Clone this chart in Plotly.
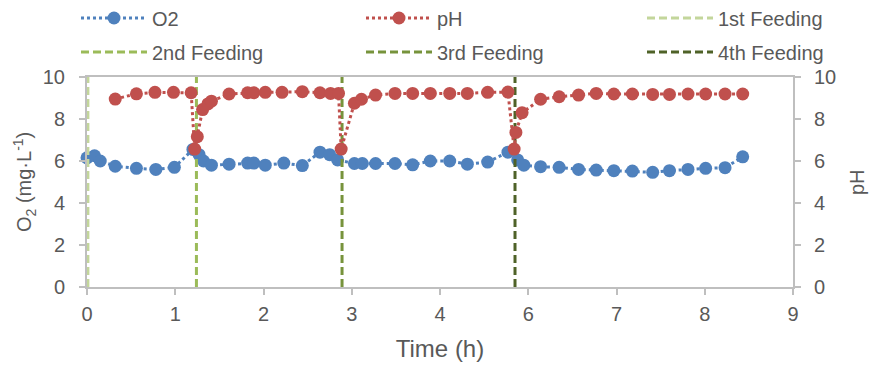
import plotly.graph_objects as go

# ---- data (x in axis-position units; tick labels as printed on the chart) ----
o2_time = [0.0, 0.085, 0.15, 0.32, 0.56, 0.78, 0.99, 1.20, 1.27, 1.32, 1.41, 1.61, 1.82, 1.89,
           2.02, 2.23, 2.44, 2.64, 2.75, 2.84, 3.03, 3.12, 3.27, 3.49, 3.69, 3.89, 4.11, 4.31,
           4.54, 4.77, 4.88, 4.95, 5.14, 5.35, 5.57, 5.77, 5.97, 6.18, 6.41, 6.60, 6.81, 7.01,
           7.23, 7.43]
o2_vals = [6.15, 6.25, 6.0, 5.75, 5.65, 5.6, 5.7, 6.55, 6.3, 6.0, 5.8, 5.85, 5.9, 5.9,
           5.8, 5.9, 5.78, 6.42, 6.3, 6.05, 5.88, 5.88, 5.88, 5.88, 5.82, 6.0, 6.0, 5.85,
           5.95, 6.42, 6.05, 5.8, 5.73, 5.7, 5.6, 5.57, 5.54, 5.52, 5.46, 5.54, 5.6, 5.65,
           5.68, 6.2]

ph_time = [0.32, 0.56, 0.77, 0.98, 1.18, 1.22, 1.25, 1.31, 1.37, 1.41, 1.61, 1.82, 1.89,
           2.02, 2.21, 2.44, 2.64, 2.76, 2.85, 2.88, 3.03, 3.11, 3.27, 3.49, 3.69, 3.89,
           4.11, 4.31, 4.54, 4.77, 4.84, 4.86, 4.93, 5.14, 5.35, 5.57, 5.77, 5.97, 6.18,
           6.41, 6.60, 6.81, 7.01, 7.23, 7.43]
ph_vals = [8.95, 9.2, 9.27, 9.27, 9.25, 6.57, 7.16, 8.45, 8.72, 8.85, 9.19, 9.25, 9.25,
           9.27, 9.27, 9.3, 9.25, 9.22, 9.22, 6.57, 8.75, 8.94, 9.14, 9.22, 9.22, 9.22,
           9.22, 9.22, 9.27, 9.28, 6.57, 7.36, 8.3, 8.94, 9.06, 9.14, 9.22, 9.19, 9.19,
           9.17, 9.17, 9.19, 9.19, 9.19, 9.19]

feed_names = ["1st Feeding", "2nd Feeding", "3rd Feeding", "4th Feeding"]
feed_times = [0.01, 1.24, 2.89, 4.85]
feed_colors = ["#C3D69B", "#9BBB59", "#77933C", "#4F6228"]

x_tickvals = [0, 1, 2, 3, 4, 5, 6, 7, 8]
x_ticktext = ["0", "1", "2", "3", "4", "6", "7", "8", "9"]
y_ticks = [0, 2, 4, 6, 8, 10]

FONT = "Liberation Sans Narrow, Arial Narrow, Liberation Sans, Arial, sans-serif"
GREY = "#595959"
AX = "#BFBFBF"
W, H = 873, 366

fig = go.Figure()

fig.add_trace(go.Scatter(
    x=o2_time, y=o2_vals, name="O2", mode="lines+markers",
    line=dict(color="#4F81BD", width=3, dash="dot"),
    marker=dict(color="#4F81BD", size=13), cliponaxis=False, legend="legend"))
fig.add_trace(go.Scatter(
    x=ph_time, y=ph_vals, name="pH", mode="lines+markers", yaxis="y2",
    line=dict(color="#C0504D", width=3, dash="dot"),
    marker=dict(color="#C0504D", size=13), cliponaxis=False, legend="legend2"))

feed_legends = ["legend3", "legend4", "legend5", "legend6"]
for nm, t, c, lg in zip(feed_names, feed_times, feed_colors, feed_legends):
    fig.add_trace(go.Scatter(
        x=[t, t], y=[0, 10], name=nm, mode="lines",
        line=dict(color=c, width=3, dash="8px,4px"), legend=lg))

# legend slots: (left px, row-center px)
slots = {"legend": (76, 18), "legend2": (361, 18), "legend3": (642, 18),
         "legend4": (76, 52), "legend5": (361, 52), "legend6": (642, 52)}


def leg(px, py):
    return dict(x=px / W, y=1 - py / H, xref="container", yref="container",
                xanchor="left", yanchor="middle", orientation="h", itemwidth=66,
                font=dict(family=FONT, size=20, color=GREY),
                bgcolor="rgba(0,0,0,0)", borderwidth=0)


legends = {k: leg(*v) for k, v in slots.items()}

PW = W - 87 - 80

fig.update_layout(
    width=W, height=H,
    margin=dict(l=87, r=80, t=77, b=79, autoexpand=False),
    paper_bgcolor="white", plot_bgcolor="white",
    font=dict(family=FONT, size=20, color=GREY),
    showlegend=True,
    **legends,
    xaxis=dict(range=[0, 8], tickvals=x_tickvals, ticktext=x_ticktext,
               showgrid=False, zeroline=False, showline=True, linecolor=AX,
               linewidth=2, mirror=True, ticks="outside", ticklen=6,
               tickcolor=AX, tickwidth=2, ticklabelstandoff=2,
               title=dict(text="Time (h)", standoff=16)),
    yaxis=dict(range=[0, 10], tickvals=y_ticks, showgrid=False, zeroline=False,
               showline=True, linecolor=AX, linewidth=2, ticks="outside",
               ticklen=6, tickcolor=AX, tickwidth=2, ticklabelstandoff=10),
    yaxis2=dict(range=[0, 10], tickvals=y_ticks, overlaying="y", side="right",
                showgrid=False, zeroline=False, showline=True, linecolor=AX,
                linewidth=2, ticks="outside", ticklen=6, tickcolor=AX, tickwidth=2,
                ticklabelstandoff=9),
    annotations=[
        dict(text="O<sub>2</sub> (mg·L<sup>-1</sup>)", textangle=-90,
             xref="paper", yref="paper", x=(24 - 87) / PW, y=0.5,
             xanchor="center", yanchor="middle", showarrow=False,
             font=dict(family=FONT, size=20, color=GREY)),
        dict(text="pH", textangle=-90,
             xref="paper", yref="paper", x=(857 - 87) / PW, y=0.5,
             xanchor="center", yanchor="middle", showarrow=False,
             font=dict(family=FONT, size=20, color=GREY)),
    ],
)

fig.write_html("out.html")
